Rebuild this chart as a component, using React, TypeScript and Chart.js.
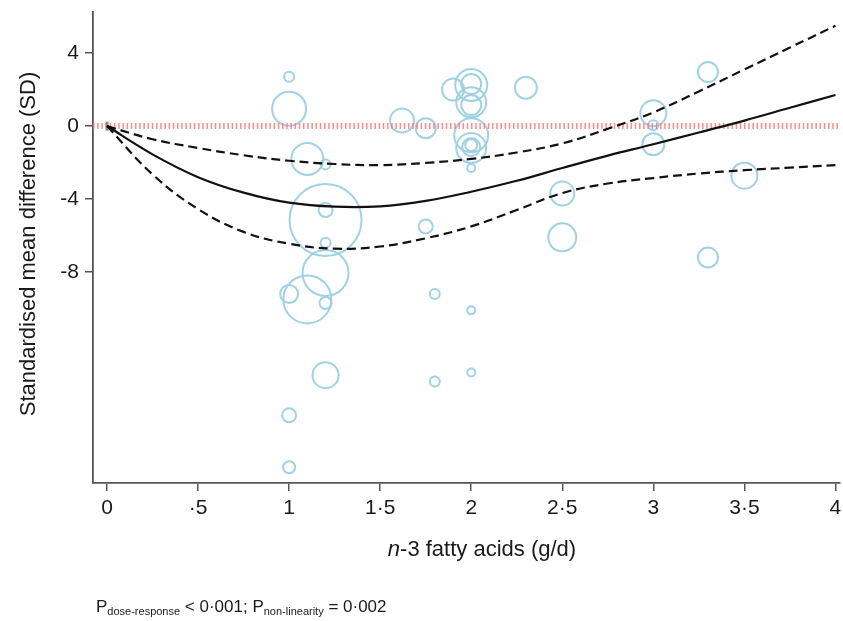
import React, { useEffect, useRef } from "react";
import { Chart, registerables } from "chart.js";

Chart.register(...registerables);

// Fitted dose-response curve (x in g/d)
const curveX = [0, 0.25, 0.5, 0.75, 1.0, 1.25, 1.5, 1.75, 2.0, 2.25, 2.5, 2.75, 3.0, 3.25, 3.5, 3.75, 4.0];
const estimate = [0, -1.55, -2.8, -3.65, -4.2, -4.42, -4.4, -4.1, -3.6, -3.0, -2.3, -1.62, -1.0, -0.35, 0.3, 1.0, 1.7];
const upperCI = [0, -0.72, -1.2, -1.6, -1.9, -2.08, -2.14, -2.02, -1.8, -1.45, -0.95, -0.15, 0.75, 1.9, 3.1, 4.3, 5.5];
const lowerCI = [0, -2.65, -4.55, -5.8, -6.45, -6.72, -6.6, -6.15, -5.5, -4.6, -3.67, -3.15, -2.85, -2.6, -2.42, -2.28, -2.14];

// Individual studies (dose, SMD, weight shown as bubble radius)
const studyDose = [
  1.0, 1.0, 1.0, 1.0, 1.0,
  1.1, 1.1,
  1.2, 1.2, 1.2, 1.2, 1.2, 1.2, 1.2,
  1.62, 1.75, 1.75, 1.8, 1.8, 1.9,
  2.0, 2.0, 2.0, 2.0, 2.0, 2.0, 2.0, 2.0, 2.0, 2.0, 2.0,
  2.3, 2.5, 2.5,
  3.0, 3.0, 3.0, 3.3, 3.3, 3.5,
];
const studySMD = [
  2.7, 0.95, -9.2, -15.85, -18.7,
  -1.8, -9.5,
  -2.1, -5.15, -4.6, -6.4, -8.05, -9.7, -13.65,
  0.3, -0.12, -5.5, -9.2, -14.0, 2.0,
  2.25, 2.3, 1.3, 1.15, -0.5, -1.2, -1.15, -1.05, -2.3, -10.1, -13.5,
  2.1, -3.7, -6.1,
  0.7, 0.05, -1.0, 2.96, -7.2, -2.72,
];
const studyWeight = [
  5, 17, 9, 7, 6,
  16, 24,
  5, 36, 7, 5, 23, 6, 13,
  12, 10, 7, 5, 5, 11,
  16, 10, 15, 10, 17, 15, 9, 6, 4, 4, 4,
  11, 12, 14,
  13, 5, 11, 10, 10, 13,
];

const xTicks = [0, 0.5, 1, 1.5, 2, 2.5, 3, 3.5, 4];
const xTickLabels = ["0", "·5", "1", "1·5", "2", "2·5", "3", "3·5", "4"];
const yTicks = [-8, -4, 0, 4];
const yTickLabels = ["-8", "-4", "0", "4"];

const yTitle = "Standardised mean difference (SD)";
const xTitleItalic = "n";
const xTitleRest = "-3 fatty acids (g/d)";

const X_MIN = -0.077;
const X_MAX = 4.025;
const Y_MIN = -19.56;
const Y_MAX = 6.25;

const FONT = '"Liberation Sans", Arial, Helvetica, sans-serif';

const textPlugin = {
  id: "customTexts",
  afterDraw(chart: any) {
    const ctx = chart.ctx as CanvasRenderingContext2D;
    ctx.save();
    ctx.fillStyle = "#1a1a1a";
    // Y title
    ctx.save();
    ctx.translate(35, 244);
    ctx.rotate(-Math.PI / 2);
    ctx.font = `22px ${FONT}`;
    ctx.textAlign = "center";
    ctx.textBaseline = "alphabetic";
    ctx.fillText(yTitle, 0, 0);
    ctx.restore();

    // X title with italic n
    ctx.textBaseline = "alphabetic";
    ctx.textAlign = "left";
    ctx.font = `italic 22px ${FONT}`;
    const w1 = ctx.measureText(xTitleItalic).width;
    ctx.font = `22px ${FONT}`;
    const w2 = ctx.measureText(xTitleRest).width;
    const sx = 482 - (w1 + w2) / 2;
    ctx.font = `italic 22px ${FONT}`;
    ctx.fillText(xTitleItalic, sx, 556);
    ctx.font = `22px ${FONT}`;
    ctx.fillText(xTitleRest, sx + w1, 556);

    // Footnote
    const parts: [string, boolean][] = [
      ["P", false],
      ["dose-response", true],
      [" < 0·001; P", false],
      ["non-linearity", true],
      [" = 0·002", false],
    ];
    let x = 96;
    const base = 612;
    for (const [t, sub] of parts) {
      ctx.font = sub ? `11px ${FONT}` : `17px ${FONT}`;
      ctx.fillText(t, x, sub ? base + 3 : base);
      x += ctx.measureText(t).width;
    }
    ctx.restore();
  },
};

export default function App() {
  const ref = useRef<HTMLCanvasElement | null>(null);

  useEffect(() => {
    if (!ref.current) return;
    const bubbles = studyDose.map((d, i) => ({ x: d, y: studySMD[i], r: studyWeight[i] }));
    const mk = (ys: number[]) => curveX.map((x, i) => ({ x, y: ys[i] }));

    const chart = new Chart(ref.current, {
      type: "bubble",
      data: {
        datasets: [
          {
            type: "line",
            data: mk(estimate),
            borderColor: "#111",
            borderWidth: 2.2,
            pointRadius: 0,
            fill: false,
            tension: 0.4,
            order: 1,
          } as any,
          {
            type: "line",
            data: mk(upperCI),
            borderColor: "#111",
            borderWidth: 2.2,
            borderDash: [9, 5],
            pointRadius: 0,
            fill: false,
            tension: 0.4,
            order: 1,
          } as any,
          {
            type: "line",
            data: mk(lowerCI),
            borderColor: "#111",
            borderWidth: 2.2,
            borderDash: [9, 5],
            pointRadius: 0,
            fill: false,
            tension: 0.4,
            order: 1,
          } as any,
          {
            type: "scatter",
            data: [{ x: 0, y: 0 }],
            pointStyle: "line",
            rotation: 90,
            pointRadius: 4.5,
            borderColor: "#8a8a8a",
            borderWidth: 3,
            order: 2,
          } as any,
          {
            type: "line",
            data: [
              { x: X_MIN, y: 0 },
              { x: X_MAX, y: 0 },
            ],
            borderColor: "rgba(255,110,110,0.8)",
            borderWidth: 6,
            borderDash: [1.5, 2.7],
            pointRadius: 0,
            fill: false,
            order: 3,
          } as any,
          {
            type: "bubble",
            data: bubbles,
            backgroundColor: "rgba(0,0,0,0)",
            borderColor: "rgba(155,208,226,0.95)",
            borderWidth: 2,
            order: 5,
          } as any,
        ],
      },
      options: {
        animation: false,
        responsive: false,
        maintainAspectRatio: false,
        layout: { autoPadding: false, padding: { top: 12, right: 3, left: 0, bottom: 0 } },
        plugins: { legend: { display: false }, tooltip: { enabled: false } },
        scales: {
          x: {
            type: "linear",
            min: X_MIN,
            max: X_MAX,
            afterBuildTicks: (s: any) => {
              s.ticks = xTicks.map((v) => ({ value: v }));
            },
            afterFit: (s: any) => {
              s.height = 138;
              s.paddingLeft = 0;
              s.paddingRight = 0;
            },
            ticks: {
              autoSkip: false,
              maxRotation: 0,
              padding: 5,
              color: "#1a1a1a",
              font: { size: 21, family: FONT },
              callback: (v: any) => {
                const i = xTicks.indexOf(Number(v));
                return i >= 0 ? xTickLabels[i] : "";
              },
            },
            grid: { display: true, drawOnChartArea: false, drawTicks: true, tickLength: 8, color: "#555", lineWidth: 1.5 },
            border: { display: true, color: "#555", width: 1.8 },
          },
          y: {
            type: "linear",
            min: Y_MIN,
            max: Y_MAX,
            afterBuildTicks: (s: any) => {
              s.ticks = yTicks.map((v) => ({ value: v }));
            },
            afterFit: (s: any) => {
              s.width = 93;
              s.paddingTop = 0;
              s.paddingBottom = 0;
            },
            ticks: {
              autoSkip: false,
              padding: 6,
              color: "#1a1a1a",
              font: { size: 21, family: FONT },
              callback: (v: any) => {
                const i = yTicks.indexOf(Number(v));
                return i >= 0 ? yTickLabels[i] : "";
              },
            },
            grid: { display: true, drawOnChartArea: false, drawTicks: true, tickLength: 8, color: "#555", lineWidth: 1.5 },
            border: { display: true, color: "#555", width: 1.8 },
          },
        },
      } as any,
      plugins: [textPlugin],
    });
    return () => chart.destroy();
  }, []);

  return (
    <div style={{ position: "absolute", left: 0, top: 0, width: 843, height: 621, background: "#fff" }}>
      <canvas ref={ref} width={843} height={621} style={{ display: "block" }} />
    </div>
  );
}
